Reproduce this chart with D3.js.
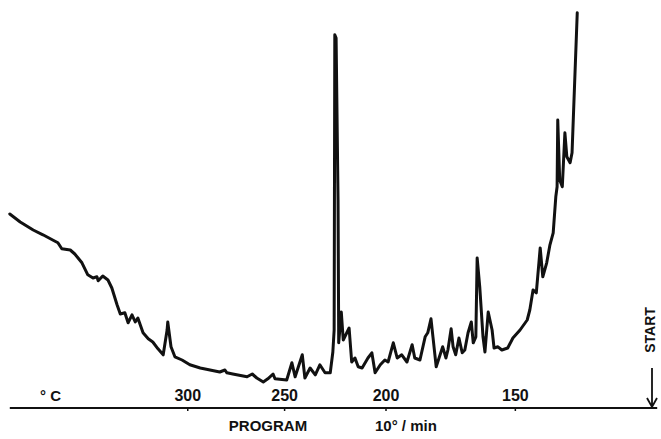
<!DOCTYPE html>
<html>
<head>
<meta charset="utf-8">
<script src="https://cdn.jsdelivr.net/npm/d3@7"></script>
<style>
  html, body { margin: 0; padding: 0; background: #fff; }
  text { font-family: "Liberation Sans", Arial, sans-serif; fill: #111; }
</style>
</head>
<body>
<div id="chart"></div>
<script>
// retention distance from START (chart units) and detector response
var traceTime = [98.8, 97.2, 95.2, 93.7, 92.2, 91.4, 90.8, 89.5, 88.8, 87.7, 86.8, 86.0, 85.4, 85.2, 84.5, 83.7, 83.1, 82.3, 81.8, 81.1,
  80.6, 80.0, 79.5, 79.1, 78.3, 77.5, 76.8, 76.0, 75.2, 74.6, 74.5, 74.0, 73.4, 72.3, 71.1, 69.5, 68.0, 66.5, 65.7, 65.4,
  64.5, 62.3, 61.5, 60.8, 59.8, 59.1, 58.3, 58.0, 56.2, 55.4, 54.9, 53.8, 53.4, 52.6, 51.8, 51.1, 50.3, 49.5, 49.1, 48.9,
  48.8, 48.6, 48.3, 48.2, 47.8, 47.5, 46.6, 46.2, 45.7, 45.2, 44.6, 43.7, 43.1, 42.6, 41.8, 41.1, 40.6, 39.8, 39.2, 38.5,
  37.7, 36.9, 36.5, 35.7, 34.9, 34.5, 34.0, 33.7, 33.2, 32.6, 32.2, 31.7, 31.4, 30.9, 30.6, 30.2, 29.7, 29.2, 28.8, 28.3,
  27.8, 27.5, 27.1, 26.9, 26.5, 26.0, 25.7, 25.2, 24.6, 24.3, 23.7, 23.1, 22.2, 21.4, 20.3, 19.2, 18.8, 18.3, 17.8, 17.2,
  16.8, 16.2, 15.7, 15.2, 14.8, 14.6, 14.5, 14.2, 13.8, 13.4, 13.1, 12.6, 12.3, 12.0, 11.5];
var traceResp = [48.5, 46.5, 44.5, 43.3, 42.0, 41.3, 39.8, 39.5, 38.5, 36.3, 33.3, 32.5, 32.8, 31.8, 33.0, 32.0, 30.0, 25.8, 23.5, 23.8,
  21.3, 23.3, 21.5, 22.5, 18.8, 17.3, 16.5, 14.8, 13.3, 19.5, 21.5, 15.3, 12.8, 12.0, 10.8, 10.0, 9.5, 9.0, 9.5, 8.8,
  8.5, 7.8, 8.5, 7.5, 6.5, 7.3, 8.5, 7.3, 7.0, 11.3, 7.8, 13.3, 7.5, 10.0, 8.3, 10.8, 8.8, 8.8, 14.0, 19.5,
  93.3, 92.5, 52.0, 16.3, 24.0, 17.0, 20.0, 11.5, 12.5, 10.3, 10.0, 12.5, 13.8, 8.8, 10.8, 12.0, 11.5, 16.3, 12.5, 13.3,
  11.5, 15.8, 12.5, 12.0, 17.8, 18.8, 22.3, 17.8, 10.3, 13.3, 15.3, 12.5, 14.5, 19.8, 15.3, 13.3, 17.5, 13.8, 14.5, 18.8,
  21.5, 16.3, 17.8, 37.5, 30.3, 17.8, 14.0, 24.0, 19.5, 15.0, 15.3, 14.5, 15.0, 17.5, 19.5, 22.0, 24.5, 29.5, 28.8, 40.0,
  32.8, 36.3, 40.8, 43.8, 52.8, 55.3, 72.0, 57.0, 55.3, 68.8, 62.8, 61.3, 63.8, 77.0, 98.8];

// temperature program ticks (position from START, label in deg C)
var tickTime = [71.5, 56.6, 41.0, 21.1];
var tickLabels = ["300", "250", "200", "150"];

var width = 661, height = 439;
var svg = d3.select("#chart").append("svg")
  .attr("width", width)
  .attr("height", height);

var x = d3.scaleLinear().domain([0, 100]).range([652, 2]);
var y = d3.scaleLinear().domain([0, 100]).range([408, 8]);

var lineData = traceTime.map(function(t, i) { return {t: t, v: traceResp[i]}; });

// baseline
svg.append("line")
  .attr("x1", x(98.8)).attr("x2", x(-0.8))
  .attr("y1", y(0)).attr("y2", y(0))
  .attr("stroke", "#111")
  .attr("stroke-width", 2.2);

var axis = svg.append("g")
  .attr("transform", "translate(0," + y(0) + ")")
  .call(d3.axisTop(x)
    .tickValues(tickTime)
    .tickFormat(function(d, i) { return tickLabels[i]; })
    .tickSizeInner(-3)
    .tickSizeOuter(0)
    .tickPadding(7));
axis.select(".domain").remove();
axis.selectAll("line").attr("stroke", "#111").attr("stroke-width", 1.5);
axis.selectAll("text")
  .style("font-family", "'Liberation Sans', Arial, sans-serif")
  .style("font-size", "16px")
  .style("font-weight", "bold")
  .attr("fill", "#111");

svg.append("text")
  .attr("x", 40).attr("y", 401)
  .style("font-size", "15px").style("font-weight", "bold")
  .text("° C");

svg.append("text")
  .attr("x", 268).attr("y", 431)
  .attr("text-anchor", "middle")
  .style("font-size", "15px").style("font-weight", "bold")
  .text("PROGRAM");

svg.append("text")
  .attr("x", 375).attr("y", 431)
  .style("font-size", "15px").style("font-weight", "bold")
  .text("10° / min");

svg.append("text")
  .attr("transform", "translate(655,330) rotate(-90)")
  .attr("text-anchor", "middle")
  .style("font-size", "14px").style("font-weight", "bold")
  .text("START");

// start arrow
svg.append("path")
  .attr("d", "M" + x(0) + "," + 368 + "V" + (y(0) - 1) + "M" + (x(0) - 5) + "," + (y(0) - 10) + "L" + x(0) + "," + (y(0) - 1) + "L" + (x(0) + 5) + "," + (y(0) - 10))
  .attr("fill", "none")
  .attr("stroke", "#111")
  .attr("stroke-width", 1.8);

// the trace
svg.append("path")
  .datum(lineData)
  .attr("fill", "none")
  .attr("stroke", "#111")
  .attr("stroke-width", 3)
  .attr("stroke-linejoin", "round")
  .attr("stroke-linecap", "round")
  .attr("d", d3.line()
    .x(function(d) { return x(d.t); })
    .y(function(d) { return y(d.v); }));
</script>
</body>
</html>
